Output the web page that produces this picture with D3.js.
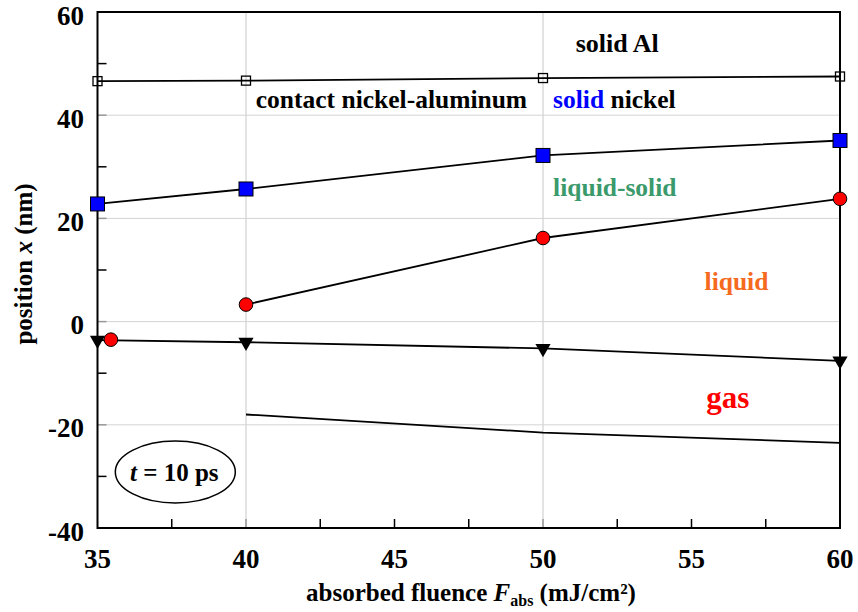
<!DOCTYPE html>
<html>
<head>
<meta charset="utf-8">
<script src="https://cdn.jsdelivr.net/npm/d3@7"></script>
<style>
  body { margin: 0; background: #fff; }
  svg text { font-family: "Liberation Serif", "Times New Roman", Times, "DejaVu Serif", serif; font-weight: bold; }
</style>
</head>
<body>
<div id="chart"></div>
<script>
width = 858
height = 612

// data
var fluence = [35, 40, 50, 60]
var contactAl = [46.6, 46.7, 47.2, 47.5]        // open squares
var solidNickel = [22.8, 25.7, 32.2, 35.1]      // blue squares
var meltX = [40, 50, 60]
var meltFront = [3.3, 16.2, 23.8]               // red circles joined
var meltLoneX = [35.45]
var meltLone = [-3.5]                           // red circle on its own
var surface = [-3.6, -4.0, -5.2, -7.6]          // black triangles
var gasX = [40, 50, 60]
var gasFront = [-18.0, -21.5, -23.5]            // plain line

var xTicks = [35, 40, 45, 50, 55, 60]
var xMinor = [37.5, 42.5, 45, 47.5, 52.5, 55, 57.5]
var xGrid = [40, 50]
var yTicks = [-40, -20, 0, 20, 40, 60]
var yMinor = [-30, -10, 10, 30, 50]
var yGrid = [-20, 0, 20, 40]

const FONT = '"Liberation Serif", "Times New Roman", Times, "DejaVu Serif", serif'

let svg = d3.select("#chart")
  .append("svg")
  .attr("width", width)
  .attr("height", height)
  .attr("font-family", FONT)
  .attr("font-weight", "bold")

var x = d3.scaleLinear().domain([35, 60]).range([97.5, 840])
var y = d3.scaleLinear().domain([-40, 60]).range([528, 12])

// grid
svg.append("g").selectAll("line").data(xGrid).enter().append("line")
  .attr("x1", d => x(d)).attr("x2", d => x(d))
  .attr("y1", y(60)).attr("y2", y(-40))
  .attr("stroke", "#c8c8c8").attr("stroke-width", 1)
svg.append("g").selectAll("line").data(yGrid).enter().append("line")
  .attr("x1", x(35)).attr("x2", x(60))
  .attr("y1", d => y(d)).attr("y2", d => y(d))
  .attr("stroke", "#d4d4d4").attr("stroke-width", 1)

// inward ticks
svg.append("g").selectAll("line").data(yMinor.concat(yGrid)).enter().append("line")
  .attr("x1", x(35)).attr("x2", x(35) + 9)
  .attr("y1", d => y(d)).attr("y2", d => y(d))
  .attr("stroke", d => yGrid.includes(d) ? "#999" : "#000").attr("stroke-width", 1.5)
svg.append("g").selectAll("line").data(xMinor.concat(xGrid)).enter().append("line")
  .attr("x1", d => x(d)).attr("x2", d => x(d))
  .attr("y1", y(-40)).attr("y2", y(-40) - 9)
  .attr("stroke", d => xGrid.includes(d) ? "#999" : "#000").attr("stroke-width", 1.5)

// frame
svg.append("rect")
  .attr("x", x(35)).attr("y", y(60))
  .attr("width", x(60) - x(35)).attr("height", y(-40) - y(60))
  .attr("fill", "none").attr("stroke", "#000").attr("stroke-width", 2)

// tick labels
svg.append("g").selectAll("text").data(xTicks).enter().append("text")
  .attr("x", d => x(d)).attr("y", 568)
  .attr("text-anchor", "middle")
  .style("font-size", "27px")
  .text(d => d)
svg.append("g").selectAll("text").data(yTicks).enter().append("text")
  .attr("x", 84).attr("y", d => y(d) + 12.5)
  .attr("text-anchor", "end")
  .style("font-size", "27px")
  .text(d => d)

// axis titles
var xt = svg.append("text")
  .attr("x", 471).attr("y", 601)
  .attr("text-anchor", "middle")
  .style("font-size", "25px")
xt.append("tspan").text("absorbed fluence ")
xt.append("tspan").style("font-style", "italic").text("F")
xt.append("tspan").attr("dy", 5).style("font-size", "16px").text("abs")
xt.append("tspan").attr("dy", -5).text(" (mJ/cm²)")

var yt = svg.append("text")
  .attr("transform", "translate(32, 264) rotate(-90)")
  .attr("text-anchor", "middle")
  .style("font-size", "25px")
yt.append("tspan").text("position ")
yt.append("tspan").style("font-style", "italic").text("x")
yt.append("tspan").text(" (nm)")

// lines
var line = d3.line().x(d => x(d[0])).y(d => y(d[1]))
function drawLine(xs, ys) {
  svg.append("path")
    .datum(d3.zip(xs, ys))
    .attr("d", line)
    .attr("fill", "none").attr("stroke", "#000").attr("stroke-width", 1.8)
}
drawLine(fluence, contactAl)
drawLine(fluence, solidNickel)
drawLine(meltX, meltFront)
drawLine(fluence, surface)
drawLine(gasX, gasFront)

// markers
svg.append("g").selectAll("rect").data(d3.zip(fluence, contactAl)).enter().append("rect")
  .attr("x", d => x(d[0]) - 4.5).attr("y", d => y(d[1]) - 4.5)
  .attr("width", 9).attr("height", 9)
  .attr("fill", "none").attr("stroke", "#000").attr("stroke-width", 1.3)

svg.append("g").selectAll("rect").data(d3.zip(fluence, solidNickel)).enter().append("rect")
  .attr("x", d => x(d[0]) - 7).attr("y", d => y(d[1]) - 7)
  .attr("width", 14).attr("height", 14)
  .attr("fill", "#0000ff").attr("stroke", "#000").attr("stroke-width", 1)

var tri = d3.symbol().type(d3.symbolTriangle).size(100)
svg.append("g").selectAll("path").data(d3.zip(fluence, surface)).enter().append("path")
  .attr("d", tri)
  .attr("transform", d => `translate(${x(d[0])}, ${y(d[1])}) rotate(180)`)
  .attr("fill", "#000")

svg.append("g").selectAll("circle")
  .data(d3.zip(meltX, meltFront).concat(d3.zip(meltLoneX, meltLone))).enter().append("circle")
  .attr("cx", d => x(d[0])).attr("cy", d => y(d[1]))
  .attr("r", 6.8)
  .attr("fill", "#ff0000").attr("stroke", "#000").attr("stroke-width", 1)

// region labels (anchored in data units)
var labels = [
  { text: "solid Al", fx: 51.1, fy: 52.3, color: "#000", size: 26 },
  { text: "contact nickel-aluminum", fx: 40.33, fy: 41.4, color: "#000", size: 25.5 },
  { text: "liquid-solid", fx: 50.34, fy: 24.3, color: "#3a9a6c", size: 25.5 },
  { text: "liquid", fx: 55.44, fy: 6.1, color: "#f56a1e", size: 25.5 },
  { text: "gas", fx: 55.5, fy: -16.8, color: "#ff0000", size: 31 }
]
svg.append("g").selectAll("text").data(labels).enter().append("text")
  .attr("x", d => x(d.fx)).attr("y", d => y(d.fy))
  .attr("fill", d => d.color)
  .style("font-size", d => d.size + "px")
  .text(d => d.text)

var sn = svg.append("text")
  .attr("x", x(50.34)).attr("y", y(41.4))
  .style("font-size", "25.5px")
sn.append("tspan").attr("fill", "#0000ff").text("solid")
sn.append("tspan").attr("fill", "#000").text(" nickel")

// time box
var cx = x(37.62), cy = y(-29.15)
svg.append("ellipse")
  .attr("cx", cx).attr("cy", cy).attr("rx", 60).attr("ry", 31)
  .attr("fill", "none").attr("stroke", "#000").attr("stroke-width", 1.5)
var tt = svg.append("text")
  .attr("x", cx - 1).attr("y", cy + 9)
  .attr("text-anchor", "middle")
  .style("font-size", "25px")
tt.append("tspan").style("font-style", "italic").text("t")
tt.append("tspan").text(" = 10 ps")
</script>
</body>
</html>
